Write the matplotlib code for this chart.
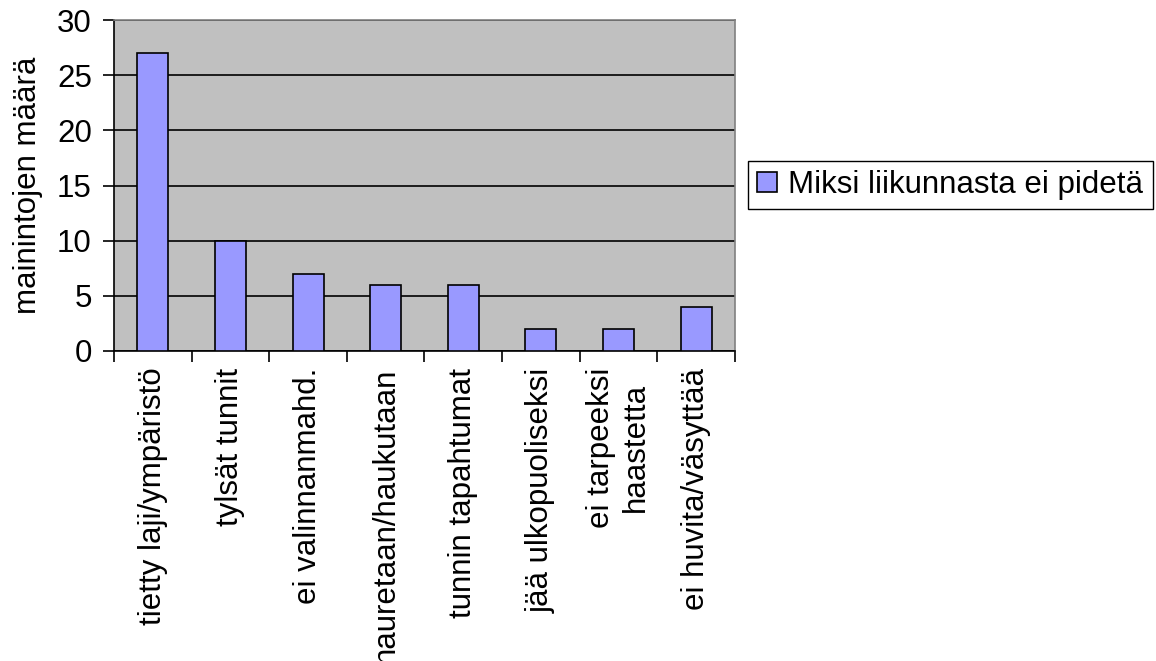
import numpy as np
import matplotlib
matplotlib.use("Agg")
import matplotlib.pyplot as plt

plt.rcParams['font.family'] = ['Liberation Sans', 'DejaVu Sans']

categories = [
    "tietty laji/ympäristö",
    "tylsät tunnit",
    "ei valinnanmahd.",
    "nauretaan/haukutaan",
    "tunnin tapahtumat",
    "jää ulkopuoliseksi",
    "ei tarpeeksi\nhaastetta",
    "ei huvita/väsyttää",
]
mentions = [27, 10, 7, 6, 6, 2, 2, 4]
series_name = "Miksi liikunnasta ei pidetä"
y_label = "mainintojen määrä"

FONT_SIZE = 22.5


def plotChart():
    fig = plt.figure(figsize=(11.56, 6.61), dpi=100)
    ax = fig.add_axes([114 / 1156, 1 - 351 / 661, (735 - 114) / 1156, (351 - 20) / 661])
    ax.set_facecolor("#C0C0C0")

    x = np.arange(len(categories))
    ax.bar(x, mentions, width=0.4, color="#9999FF", edgecolor="black",
           linewidth=1.2, label=series_name, zorder=3)

    ax.set_xlim(-0.5, len(categories) - 0.5)
    ax.set_ylim(0, 30)
    ax.set_yticks(np.arange(0, 31, 5))
    ax.yaxis.grid(True, color="black", linewidth=1.2, zorder=1)
    ax.set_axisbelow(True)

    ax.set_xticks(x)
    ax.set_xticklabels(categories, rotation=90, ha="center", va="top",
                       multialignment="center", fontsize=FONT_SIZE)
    ax.set_xticks(np.arange(-0.5, len(categories), 1), minor=True)
    ax.tick_params(axis="x", which="major", length=0, pad=12)
    ax.tick_params(axis="x", which="minor", length=8, width=1.2, direction="out")
    ax.tick_params(axis="y", length=8, width=1.2, direction="out",
                   labelsize=FONT_SIZE, pad=8)

    for side in ["top", "right"]:
        ax.spines[side].set_color("#808080")
        ax.spines[side].set_linewidth(1.2)
    for side in ["left", "bottom"]:
        ax.spines[side].set_color("black")
        ax.spines[side].set_linewidth(1.2)

    ax.set_ylabel(y_label, fontsize=FONT_SIZE, labelpad=10)

    fig.legend(loc="center", bbox_to_anchor=(950 / 1156, 1 - 185 / 661),
               fontsize=FONT_SIZE, frameon=True, fancybox=False, edgecolor="black",
               framealpha=1, handlelength=0.65, handleheight=0.65,
               handletextpad=0.35, borderpad=0.3, borderaxespad=0)

    fig.savefig("out.png", dpi=100)


plotChart()
